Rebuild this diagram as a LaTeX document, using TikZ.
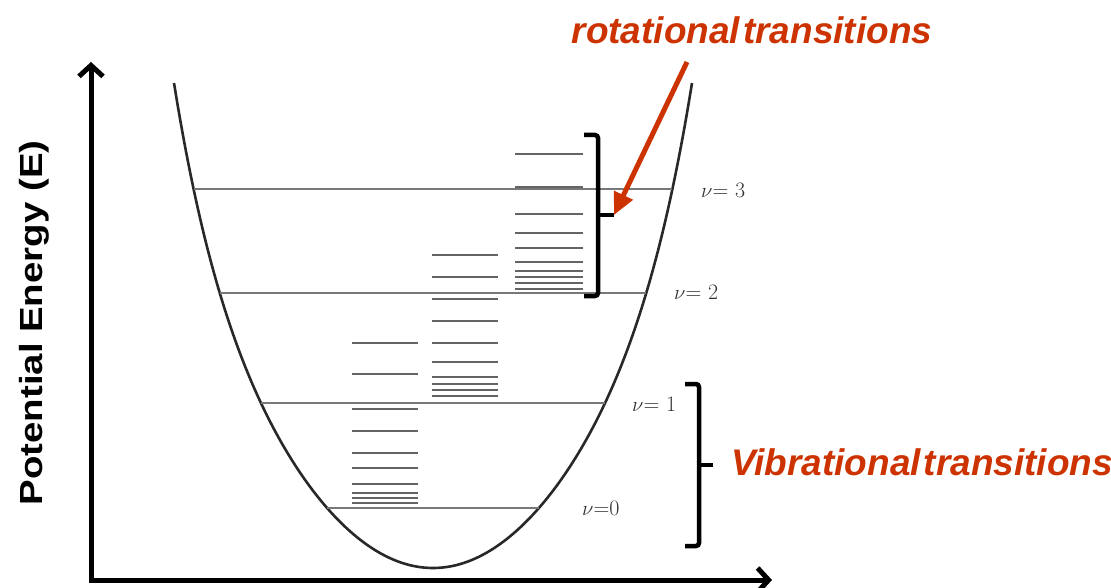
\documentclass[tikz,border=0pt]{standalone}
\usepackage{fontspec}
\newfontfamily\arialf{Liberation Sans}
\usetikzlibrary{arrows.meta}
\definecolor{rred}{RGB}{204,51,0}
\definecolor{lvlgray}{RGB}{120,120,120}
\definecolor{rotgray}{RGB}{100,100,100}
\definecolor{wellc}{RGB}{40,40,40}
\begin{document}
\begin{tikzpicture}[x=1pt,y=-1pt,
  axis/.style={line width=5pt, line join=miter},
  vlevel/.style={draw=lvlgray, line width=2.2pt},
  rlevel/.style={draw=rotgray, line width=2.1pt},
  well/.style={draw=wellc, line width=2.6pt},
  bracketline/.style={line width=4.5pt, rounded corners=3pt},
  redlabel/.style={text=rred, font=\arialf\bfseries\itshape\fontsize{37}{40}\selectfont, inner sep=0pt, anchor=base},
  vlab/.style={text=black!80, font=\fontsize{22}{26}\selectfont, inner sep=0pt, anchor=west},
  pointer/.style={draw=rred, line width=5pt, -{Triangle[length=22pt,width=20pt]}},
  ylabel/.style={rotate=90, anchor=base, inner sep=0pt, font=\arialf\bfseries\fontsize{32}{36}\selectfont}
]
\useasboundingbox (0,0) rectangle (1111,588);

% axes
\coordinate (O) at (91,580);
\coordinate (Ytip) at (91,62);
\coordinate (Xtip) at (772,580);
\draw[axis, {Straight Barb[length=11pt,width=24pt]}-{Straight Barb[length=11pt,width=24pt]}] (Ytip) -- (O) -- (Xtip);
\node[ylabel] (ylab) at (42,323) {\scalebox{1.2}[1]{Potential Energy (E)}};

% potential well
\draw[well] plot[domain=-259:259, samples=160, smooth, variable=\t]
  ({433+\t}, {568 - (\t/13.7)*(\t/13.7)*(1+0.357*(abs(\t)/259)^5)});

% vibrational levels
\draw[vlevel] (194,189) -- (672,189);
\draw[vlevel] (220,293) -- (646,293);
\draw[vlevel] (261,403) -- (605,403);
\draw[vlevel] (327,508) -- (539,508);

% rotational levels
\foreach \y in {343,374,409,431,453,468,484,493,498,503}
  \draw[rlevel] (352,\y) -- (418,\y);
\foreach \y in {255,277,299,321,343,362,377,384,390,396}
  \draw[rlevel] (432,\y) -- (498,\y);
\foreach \y in {154,187,214,233,248,262,271,277,283,289}
  \draw[rlevel] (515,\y) -- (583,\y);

% level labels
\node[vlab] (v3) at (701,190) {$\nu$= 3};
\node[vlab] (v2) at (674,292) {$\nu$= 2};
\node[vlab] (v1) at (632,404) {$\nu$= 1};
\node[vlab] (v0) at (582,508) {$\nu$=0};

% brackets
\draw[bracketline] (584,135) -- (598,135) -- (598,296) -- (584,296);
\coordinate (rotTick) at (614,215);
\draw[line width=4.5pt] (598,215) -- (rotTick);
\draw[bracketline] (685,384) -- (699,384) -- (699,546) -- (685,546);
\coordinate (vibTick) at (713,465);
\draw[line width=4.5pt] (699,465) -- (vibTick);

% labels
\node[redlabel] (rotlab) at (752,44) {rotational\hspace{3pt}transitions};
\node[redlabel] (viblab) at (922,475) {Vibrational\hspace{3pt}transitions};

% pointer
\coordinate (arrStart) at (687,62);
\draw[pointer] (arrStart) -- (rotTick);
\end{tikzpicture}
\end{document}
